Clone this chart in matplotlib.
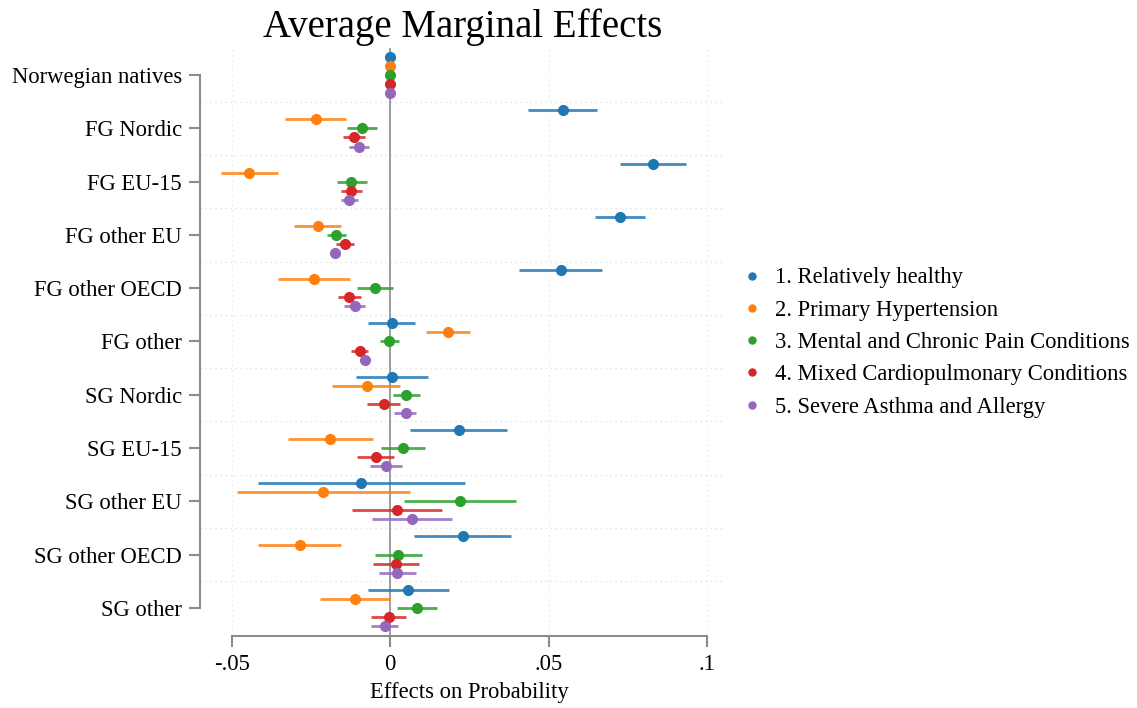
import numpy as np
import matplotlib
matplotlib.use("Agg")
import matplotlib.pyplot as plt
import matplotlib.transforms as mtransforms

plt.rcParams['font.family'] = ['Liberation Serif', 'DejaVu Serif']

# Data
groups = ["Norwegian natives", "FG Nordic", "FG EU-15", "FG other EU", "FG other OECD",
          "FG other", "SG Nordic", "SG EU-15", "SG other EU", "SG other OECD", "SG other"]
series = ["1. Relatively healthy", "2. Primary Hypertension",
          "3. Mental and Chronic Pain Conditions", "4. Mixed Cardiopulmonary Conditions",
          "5. Severe Asthma and Allergy"]
colors = ["#1f77b4", "#ff7f0e", "#2ca02c", "#d62728", "#9467bd"]

# point estimates, one list per series (rows follow groups)
est_healthy = [0, 0.0545, 0.0830, 0.0725, 0.0538, 0.0005, 0.0005, 0.0216, -0.0091, 0.0228, 0.0057]
est_hyper = [0, -0.0235, -0.0445, -0.0229, -0.0240, 0.0183, -0.0075, -0.0190, -0.0212, -0.0286, -0.0111]
est_mental = [0, -0.0089, -0.0123, -0.0170, -0.0049, -0.0004, 0.0050, 0.0041, 0.0221, 0.0025, 0.0085]
est_cardio = [0, -0.0114, -0.0124, -0.0142, -0.0129, -0.0097, -0.0021, -0.0046, 0.0021, 0.0017, -0.0005]
est_asthma = [0, -0.0099, -0.0130, -0.0174, -0.0111, -0.0079, 0.0048, -0.0013, 0.0069, 0.0022, -0.0017]

# confidence interval bounds
lo_healthy = [0, 0.0436, 0.0725, 0.0645, 0.0408, -0.0069, -0.0108, 0.0063, -0.0418, 0.0075, -0.0070]
hi_healthy = [0, 0.0653, 0.0934, 0.0804, 0.0668, 0.0079, 0.0118, 0.0368, 0.0235, 0.0382, 0.0184]
lo_hyper = [0, -0.0331, -0.0535, -0.0303, -0.0354, 0.0114, -0.0183, -0.0323, -0.0485, -0.0418, -0.0222]
hi_hyper = [0, -0.0140, -0.0356, -0.0156, -0.0127, 0.0252, 0.0031, -0.0056, 0.0063, -0.0155, 0.0000]
lo_mental = [0, -0.0136, -0.0169, -0.0200, -0.0106, -0.0033, 0.0008, -0.0029, 0.0042, -0.0048, 0.0022]
hi_mental = [0, -0.0042, -0.0075, -0.0141, 0.0008, 0.0026, 0.0094, 0.0111, 0.0398, 0.0099, 0.0148]
lo_cardio = [0, -0.0150, -0.0157, -0.0170, -0.0166, -0.0123, -0.0074, -0.0106, -0.0120, -0.0056, -0.0060]
hi_cardio = [0, -0.0079, -0.0089, -0.0114, -0.0091, -0.0069, 0.0031, 0.0013, 0.0163, 0.0090, 0.0049]
lo_asthma = [0, -0.0129, -0.0157, -0.0188, -0.0145, -0.0097, 0.0013, -0.0064, -0.0059, -0.0035, -0.0062]
hi_asthma = [0, -0.0066, -0.0101, -0.0159, -0.0079, -0.0064, 0.0081, 0.0037, 0.0196, 0.0080, 0.0025]

estimates = [est_healthy, est_hyper, est_mental, est_cardio, est_asthma]
lows = [lo_healthy, lo_hyper, lo_mental, lo_cardio, lo_asthma]
highs = [hi_healthy, hi_hyper, hi_mental, hi_cardio, hi_asthma]

offsets = [-0.34, -0.17, 0.0, 0.17, 0.34]

fig = plt.figure(figsize=(11.37, 7.08), dpi=100)
ax = fig.add_axes([200 / 1137, 1 - 636 / 708, 525 / 1137, (636 - 48) / 708])

rows = np.arange(len(groups))
for k in range(len(series)):
    y = rows + offsets[k]
    est = np.array(estimates[k])
    lo = np.array(lows[k])
    hi = np.array(highs[k])
    ax.hlines(y, lo, hi, color=colors[k], lw=2.0, alpha=0.85, zorder=3)
    ax.plot(est, y, 'o', color=colors[k], ms=7, zorder=4, label=series[k])

ax.axvline(0, color="#8c8c8c", lw=1.2, zorder=2)

# dotted grid between groups and at x ticks
for g in np.arange(0.5, len(groups) - 1, 1.0):
    ax.axhline(g, color="#dddddd", lw=0.9, ls=(0, (1, 3)), zorder=1)
for xv in [-0.05, 0.05, 0.1]:
    ax.axvline(xv, color="#e6e6e6", lw=0.9, ls=(0, (1, 3)), zorder=1)

ax.set_xlim(-0.0601, 0.1057)
ax.set_ylim(10.53, -0.51)
ax.set_xticks([-0.05, 0, 0.05, 0.1])
ax.set_xticklabels(["-.05", "0", ".05", ".1"])
ax.set_yticks(rows)
ax.set_yticklabels(groups)
ax.tick_params(axis='both', labelsize=16.3, color="#8c8c8c", length=8, width=1.5)
ax.tick_params(axis='x', pad=5)
ax.tick_params(axis='y', pad=5)

for s in ["top", "right"]:
    ax.spines[s].set_visible(False)
for s in ["left", "bottom"]:
    ax.spines[s].set_color("#8c8c8c")
    ax.spines[s].set_linewidth(1.5)
ax.spines["left"].set_bounds(0, 10)
ax.spines["bottom"].set_bounds(-0.05, 0.1)

trans = mtransforms.blended_transform_factory(ax.transData, ax.transAxes)
ax.text(0.025, -0.105, "Effects on Probability", transform=trans, ha='center', va='baseline',
        fontsize=16.3)
ax.text(0.5, 1.018, "Average Marginal Effects", transform=ax.transAxes, ha='center', va='baseline',
        fontsize=28)

leg = ax.legend(loc='center left', bbox_to_anchor=(0.9955, 0.499), frameon=False, fontsize=16.3,
                handlelength=0.8, handletextpad=0.6, labelspacing=0.5, markerscale=0.72)

fig.savefig("out.png", dpi=100, facecolor="white")
